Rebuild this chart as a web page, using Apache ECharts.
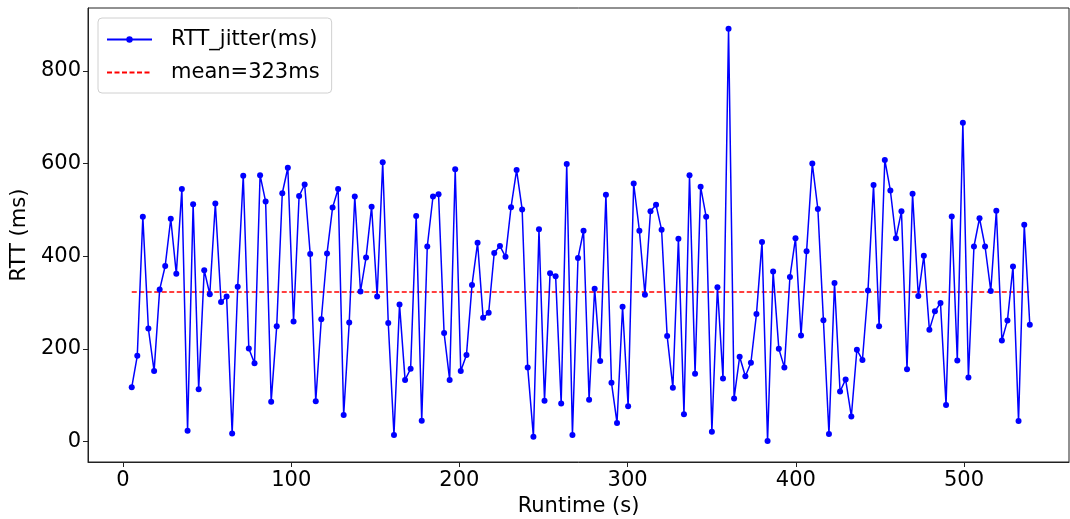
<!DOCTYPE html>
<html>
<head>
<meta charset="utf-8">
<script src="https://cdn.jsdelivr.net/npm/echarts@6/dist/echarts.min.js"></script>
<style>
  html, body { margin: 0; padding: 0; background: #fff; }
  #chart { width: 1070px; height: 519px; }
</style>
</head>
<body>
<div id="chart"></div>
<script>
// Sample times (s)
const runtime = [
  5.2, 8.5, 11.8, 15.1, 18.5, 21.8, 25.1, 28.4, 31.7, 35.0,
  38.4, 41.7, 45.0, 48.3, 51.6, 54.9, 58.3, 61.6, 64.9, 68.2,
  71.5, 74.8, 78.2, 81.5, 84.8, 88.1, 91.4, 94.7, 98.0, 101.4,
  104.7, 108.0, 111.3, 114.6, 117.9, 121.3, 124.6, 127.9, 131.2, 134.5,
  137.8, 141.2, 144.5, 147.8, 151.1, 154.4, 157.7, 161.1, 164.4, 167.7,
  171.0, 174.3, 177.6, 180.9, 184.3, 187.6, 190.9, 194.2, 197.5, 200.8,
  204.2, 207.5, 210.8, 214.1, 217.4, 220.7, 224.1, 227.4, 230.7, 234.0,
  237.3, 240.6, 244.0, 247.3, 250.6, 253.9, 257.2, 260.5, 263.8, 267.2,
  270.5, 273.8, 277.1, 280.4, 283.7, 287.1, 290.4, 293.7, 297.0, 300.3,
  303.6, 307.0, 310.3, 313.6, 316.9, 320.2, 323.5, 326.9, 330.2, 333.5,
  336.8, 340.1, 343.4, 346.7, 350.1, 353.4, 356.7, 360.0, 363.3, 366.6,
  370.0, 373.3, 376.6, 379.9, 383.2, 386.5, 389.9, 393.2, 396.5, 399.8,
  403.1, 406.4, 409.8, 413.1, 416.4, 419.7, 423.0, 426.3, 429.6, 433.0,
  436.3, 439.6, 442.9, 446.2, 449.5, 452.9, 456.2, 459.5, 462.8, 466.1,
  469.4, 472.8, 476.1, 479.4, 482.7, 486.0, 489.3, 492.7, 496.0, 499.3,
  502.6, 505.9, 509.2, 512.5, 515.9, 519.2, 522.5, 525.8, 529.1, 532.4,
  535.8, 539.1
];

// Round-trip time jitter per sample (ms)
const rttJitter = [
  117, 185, 485, 244, 152, 328, 379, 481, 362, 545, 23, 512, 113, 370, 318,
  514, 301, 313, 17, 334, 574, 201, 169, 575, 518, 86, 249, 536, 591, 259,
  530, 555, 405, 87, 264, 406, 505, 545, 57, 257, 529, 324, 397, 507, 313, 603,
  256, 14, 296, 133, 157, 487, 45, 421, 529, 534, 234, 133, 588, 152, 187,
  338, 429, 267, 278, 407, 422, 399, 506, 586, 501, 160, 10, 458, 88, 363, 357,
  82, 599, 14, 396, 455, 90, 330, 174, 533, 127, 40, 291, 76, 557, 455, 317,
  497, 511, 457, 228, 116, 438, 59, 575, 146, 550, 485, 21, 333, 136,
  891, 93, 183, 141, 170, 275, 431, 1, 367, 200, 160, 355, 439, 229, 411, 600, 502,
  262, 16, 342, 108, 134, 54, 198, 176, 326, 554, 249, 608, 542, 439, 497, 156,
  535, 314, 401, 241, 281, 299, 79, 486, 175, 688, 138, 421, 482, 421, 325,
  498, 218, 261, 378, 44, 468, 252
];

const MEAN_RTT = 323;

const xTicks = [0, 100, 200, 300, 400, 500];
const yTicks = [0, 200, 400, 600, 800];

const SERIES_NAME = 'RTT_jitter(ms)';
const MEAN_NAME = 'mean=' + MEAN_RTT + 'ms';

const FONT = 'DejaVu Sans';
const FS = 21;

const rttPoints = runtime.map((t, i) => [t, rttJitter[i]]);
const meanPoints = [
  [runtime[0], MEAN_RTT],
  [runtime[runtime.length - 1], MEAN_RTT]
];

const chart = echarts.init(document.getElementById('chart'), null, { renderer: 'canvas' });

chart.setOption({
  animation: false,
  backgroundColor: '#ffffff',
  textStyle: { fontFamily: FONT },
  grid: {
    left: 88, right: 1, top: 8, bottom: 57,
    outerBoundsMode: 'none',
    containLabel: false,
    show: true, borderColor: '#222', borderWidth: 1, backgroundColor: 'transparent'
  },
  legend: {
    orient: 'vertical',
    left: 98, top: 18,
    padding: [11, 12, 10, 8],
    itemGap: 12,
    itemWidth: 45, itemHeight: 8,
    backgroundColor: 'rgba(255,255,255,0.8)',
    borderColor: '#d0d0d0', borderWidth: 1, borderRadius: 4,
    textStyle: { fontFamily: FONT, fontSize: FS, color: '#000', padding: [0, 0, 0, 14] },
    data: [
      { name: SERIES_NAME },
      { name: MEAN_NAME, itemStyle: { color: 'rgba(0,0,0,0)', borderWidth: 0 } }
    ]
  },
  xAxis: {
    type: 'value',
    min: -20.8, max: 562.4,
    name: 'Runtime (s)',
    nameLocation: 'middle',
    nameGap: 30,
    nameTextStyle: { fontFamily: FONT, fontSize: FS, color: '#000' },
    axisLine: { show: true, onZero: false, lineStyle: { color: '#222', width: 1 } },
    axisTick: { show: true, length: 5, lineStyle: { color: '#222', width: 1 }, customValues: xTicks },
    axisLabel: { fontFamily: FONT, fontSize: FS, color: '#000', margin: 8, customValues: xTicks },
    splitLine: { show: false }
  },
  yAxis: {
    type: 'value',
    min: -44.3, max: 936,
    name: 'RTT (ms)',
    nameLocation: 'middle',
    nameRotate: 90,
    nameGap: 46,
    nameTextStyle: { fontFamily: FONT, fontSize: FS, color: '#000' },
    axisLine: { show: true, onZero: false, lineStyle: { color: '#222', width: 1 } },
    axisTick: { show: true, length: 5, lineStyle: { color: '#222', width: 1 }, customValues: yTicks },
    axisLabel: { fontFamily: FONT, fontSize: FS, color: '#000', margin: 7, customValues: yTicks },
    splitLine: { show: false }
  },
  series: [
    {
      name: SERIES_NAME,
      type: 'line',
      data: rttPoints,
      symbol: 'circle',
      symbolSize: 6,
      showAllSymbol: true,
      itemStyle: { color: '#0000ff' },
      lineStyle: { color: '#0000ff', width: 1.5 },
      z: 3
    },
    {
      name: MEAN_NAME,
      type: 'line',
      data: meanPoints,
      symbol: 'none',
      itemStyle: { color: '#ff0000' },
      lineStyle: { color: '#ff0000', width: 1.5, type: [5, 2.5] },
      z: 2
    }
  ]
});
</script>
</body>
</html>
